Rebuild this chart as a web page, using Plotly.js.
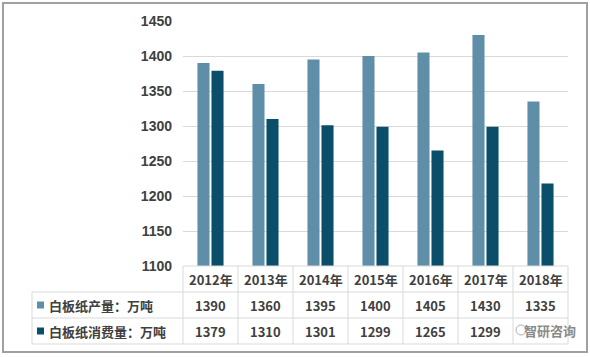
<!DOCTYPE html>
<html><head><meta charset="utf-8">
<script src="https://cdn.plot.ly/plotly-3.0.1.min.js"></script>
<style>html,body{margin:0;padding:0;background:#fff}#chart{width:590px;height:357px}</style>
</head><body><div id="chart"></div>
<script>
const years = ['2012年','2013年','2014年','2015年','2016年','2017年','2018年'];
const production = [1390,1360,1395,1400,1405,1430,1335];
const consumption = [1379,1310,1301,1299,1265,1299,1218];
const seriesNames = ['白板纸产量：万吨','白板纸消费量：万吨'];
const yTicks = [1100,1150,1200,1250,1300,1350,1400,1450];

const W=590,H=357,L=183,R=22,T=21,B=91;
const pw=W-L-R, ph=H-T-B;
const px=x=>(x-L)/pw, py=y=>(H-B-y)/ph;
const cLight='#5F8FA8', cDark='#0A4E69', grid='#D9D9D9', txt='#404040';
const fnt={family:'"Noto Sans CJK SC", "Liberation Sans", sans-serif', size:13, color:txt, weight:'bold'};

const traces=[
 {type:'bar',x:years,y:production,name:seriesNames[0],marker:{color:cLight},hoverinfo:'none'},
 {type:'bar',x:years,y:consumption,name:seriesNames[1],marker:{color:cDark},hoverinfo:'none'}
];

const n=years.length;
const rowY=[266,292,318,344];
const shapes=[], ann=[];
const ln={color:grid,width:1};
shapes.push({type:'line',xref:'paper',yref:'paper',x0:0,x1:1,y0:py(rowY[0]),y1:py(rowY[0]),line:ln});
for(let k=1;k<4;k++) shapes.push({type:'line',xref:'paper',yref:'paper',x0:px(32),x1:1,y0:py(rowY[k]),y1:py(rowY[k]),line:ln});
for(let i=0;i<=n;i++) shapes.push({type:'line',xref:'paper',yref:'paper',x0:i/n,x1:i/n,y0:py(rowY[0]),y1:py(rowY[3]),line:ln});
shapes.push({type:'line',xref:'paper',yref:'paper',x0:px(32),x1:px(32),y0:py(rowY[1]),y1:py(rowY[3]),line:ln});
shapes.push({type:'rect',xref:'paper',yref:'paper',x0:px(3),x1:px(587),y0:py(3),y1:py(352),line:{color:'#A0A0A0',width:2}});
[[cLight,305],[cDark,331]].forEach(([c,yc])=>{
  shapes.push({type:'rect',xref:'paper',yref:'paper',x0:px(37),x1:px(44),y0:py(yc-3.5),y1:py(yc+3.5),fillcolor:c,line:{width:0}});
});
years.forEach((yr,i)=>{
  const xc=(i+0.5)/n;
  ann.push({xref:'paper',yref:'paper',x:xc,y:py(279),text:yr,showarrow:false,font:fnt,xanchor:'center',yanchor:'middle'});
  ann.push({xref:'paper',yref:'paper',x:xc,y:py(305),text:String(production[i]),showarrow:false,font:fnt,xanchor:'center',yanchor:'middle'});
  // the last consumption cell is covered by the watermark in the reference
  if(i<n-1) ann.push({xref:'paper',yref:'paper',x:xc,y:py(331),text:String(consumption[i]),showarrow:false,font:fnt,xanchor:'center',yanchor:'middle'});
});
ann.push({xref:'paper',yref:'paper',x:px(47),y:py(305),text:seriesNames[0],showarrow:false,font:fnt,xanchor:'left',yanchor:'middle'});
ann.push({xref:'paper',yref:'paper',x:px(47),y:py(331),text:seriesNames[1],showarrow:false,font:fnt,xanchor:'left',yanchor:'middle'});
// watermark
ann.push({xref:'paper',yref:'paper',x:px(550),y:py(330),text:'智研咨询',showarrow:false,
  font:{family:'"Noto Sans CJK SC", sans-serif',size:13,color:'#8A8A8A'},xanchor:'center',yanchor:'middle'});
shapes.push({type:'circle',xref:'paper',yref:'paper',x0:px(516),x1:px(526),y0:py(325),y1:py(335),line:{color:'#B0B0B0',width:1}});

const layout={
 width:W,height:H,margin:{l:L,r:R,t:T,b:B},
 paper_bgcolor:'#fff',plot_bgcolor:'#fff',
 showlegend:false,barmode:'group',bargap:0.49,bargroupgap:0.14,
 xaxis:{showticklabels:false,showgrid:false,zeroline:false,showline:false,ticks:'',fixedrange:true},
 yaxis:{range:[1100,1450],tickvals:yTicks,showgrid:true,gridcolor:grid,gridwidth:1,zeroline:false,showline:false,
   ticks:'',ticklabelstandoff:10,tickfont:{family:'"Liberation Sans", sans-serif',size:14,color:txt,weight:'bold'}},
 shapes:shapes,annotations:ann,
 font:fnt
};
Plotly.newPlot('chart',traces,layout,{staticPlot:true,displayModeBar:false});
</script></body></html>
